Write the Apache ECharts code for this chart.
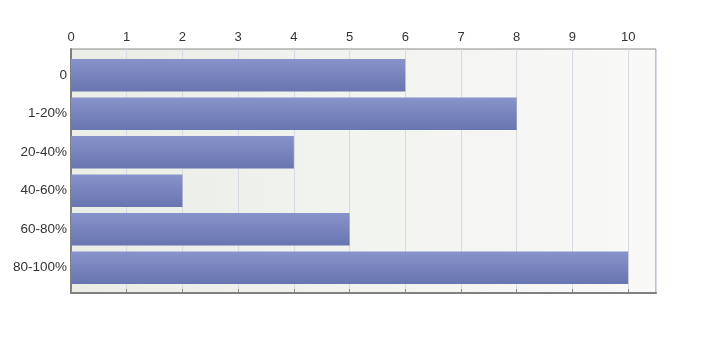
<!DOCTYPE html>
<html><head><meta charset="utf-8">
<script src="https://cdn.jsdelivr.net/npm/echarts@6/dist/echarts.min.js"></script>
<style>html,body{margin:0;padding:0;background:#fff}#c{width:713px;height:337px}</style>
</head><body><div id="c"></div>
<script>
const categories = ['0', '1-20%', '20-40%', '40-60%', '60-80%', '80-100%'];
const values = [6, 8, 4, 2, 5, 10];
const tickMax = 10.5;

const font = 'Liberation Sans, Arial, sans-serif';
const chart = echarts.init(document.getElementById('c'));
chart.setOption({
  animation: false,
  grid: [{
    left: 71, right: 57, top: 49, bottom: 44,
    show: true,
    borderColor: '#8a8a8a', borderWidth: 1,
    backgroundColor: new echarts.graphic.LinearGradient(0, 0, 1, 0, [
      {offset: 0, color: '#eaeee6'},
      {offset: 1, color: '#f9f9f8'}
    ])
  }, {
    left: 71, right: 57, top: 56, bottom: 50
  }],
  xAxis: [{
    gridIndex: 0, type: 'value', position: 'top', min: 0, max: tickMax, interval: 1,
    axisLine: {show: false},
    axisTick: {show: true, length: 4, lineStyle: {color: '#888'}},
    axisLabel: {color: '#333', fontSize: 13, fontFamily: font, margin: 5, showMaxLabel: false,
      formatter: v => (v > 10 ? '' : String(v))},
    splitLine: {show: true, lineStyle: {color: '#d7d9e3', width: 1}}
  }, {
    gridIndex: 0, type: 'value', position: 'bottom', min: 0, max: tickMax, interval: 1,
    axisLine: {show: true, lineStyle: {color: '#808080', width: 2}},
    axisTick: {show: false}, axisLabel: {show: false}, splitLine: {show: false}
  }, {
    gridIndex: 1, type: 'value', min: 0, max: tickMax, interval: 1, show: false
  }],
  yAxis: [{
    gridIndex: 0, type: 'value', min: 0, max: 1,
    axisLine: {show: true, lineStyle: {color: '#808080', width: 2}},
    axisTick: {show: false}, axisLabel: {show: false}, splitLine: {show: false}
  }, {
    gridIndex: 1, type: 'category', data: categories, inverse: true,
    axisLine: {show: false},
    axisTick: {show: false},
    axisLabel: {color: '#333', fontSize: 13.5, fontFamily: font, margin: 4}
  }],
  series: [{
    type: 'bar', data: values, xAxisIndex: 2, yAxisIndex: 1, barCategoryGap: '15.6%',
    itemStyle: {
      color: new echarts.graphic.LinearGradient(0, 0, 0, 1, [
        {offset: 0, color: '#8893cb'},
        {offset: 1, color: '#6975b0'}
      ])
    }
  }]
});
</script></body></html>
